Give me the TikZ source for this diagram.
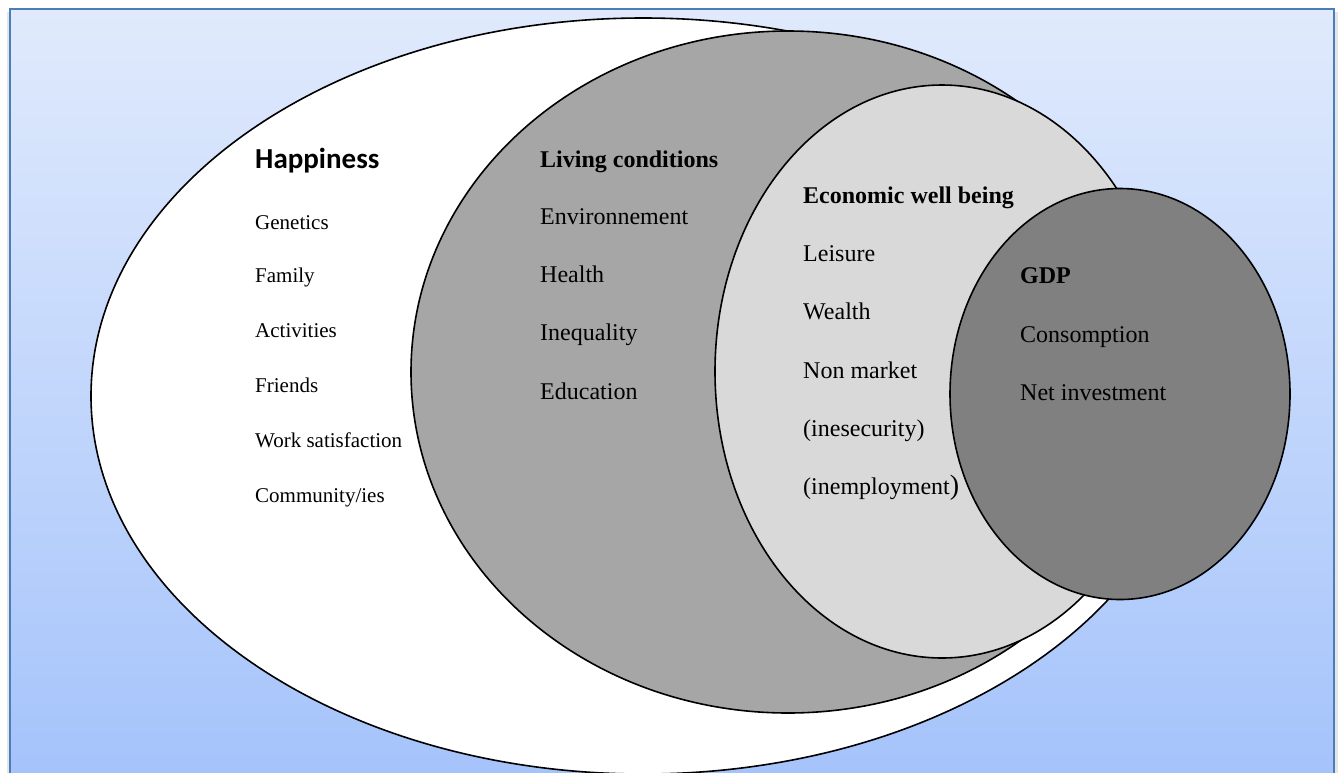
\documentclass[tikz,border=0pt]{standalone}
\usepackage{fontspec}
\setmainfont{Liberation Serif}
\newfontfamily\headfont{Carlito}
\definecolor{bgtop}{RGB}{224,234,252}
\definecolor{bgbot}{RGB}{163,194,251}
\definecolor{framebl}{RGB}{74,126,187}
\definecolor{livgray}{RGB}{166,166,166}
\definecolor{ecogray}{RGB}{217,217,217}
\definecolor{gdpgray}{RGB}{128,128,128}
\begin{document}
\begin{tikzpicture}
  [x=1pt,y=-1pt,
   every node/.style={anchor=base west,inner sep=0pt,font=\fontsize{24}{28}\selectfont},
   item/.style={font=\fontsize{21}{25}\selectfont},
   head/.style={font=\fontsize{24}{28}\selectfont\bfseries},
   zone/.style={draw=black,line width=1.6pt}]
  \useasboundingbox (0,0) rectangle (1341,772);
  \clip (0,0) rectangle (1341,772);
  \fill[black!10] (7,12) rectangle (1338,800);
  \draw[framebl,line width=1.5pt,top color=bgtop,bottom color=bgbot]
    (10,9) rectangle (1334,800);

  \draw[zone,fill=white] (643,396) ellipse [x radius=552pt, y radius=378pt];
  \draw[zone,fill=livgray] (788,372) ellipse [x radius=377pt, y radius=341pt];
  \draw[zone,fill=ecogray] (942,371.5) ellipse [x radius=227pt, y radius=286.5pt];
  \draw[zone,fill=gdpgray] (1120,394) ellipse [x radius=170pt, y radius=205.5pt];

  \node[font=\fontsize{29}{32}\headfont\bfseries] (hap) at (255,168) {Happiness};
  \node[item] (hap1) at (255,229) {Genetics};
  \node[item] (hap2) at (255,282) {Family};
  \node[item] (hap3) at (255,337) {Activities};
  \node[item] (hap4) at (255,392) {Friends};
  \node[item] (hap5) at (255,447) {Work satisfaction};
  \node[item] (hap6) at (255,502) {Community/ies};

  \node[head] (liv) at (540,167) {Living conditions};
  \node (liv1) at (540,224) {Environnement};
  \node (liv2) at (540,282) {Health};
  \node (liv3) at (540,340) {Inequality};
  \node (liv4) at (540,399) {Education};

  \node[head] (eco) at (803,203) {Economic well being};
  \node (eco1) at (803,261) {Leisure};
  \node (eco2) at (803,319) {Wealth};
  \node (eco3) at (803,378) {Non market};
  \node (eco4) at (803,436) {(inesecurity)};
  \node (eco5) at (803,494) {(inemployment{\fontsize{28}{28}\selectfont)}};

  \node[head] (gdp) at (1020,283) {GDP};
  \node (gdp1) at (1020,342) {Consomption};
  \node (gdp2) at (1020,400) {Net investment};
\end{tikzpicture}
\end{document}
